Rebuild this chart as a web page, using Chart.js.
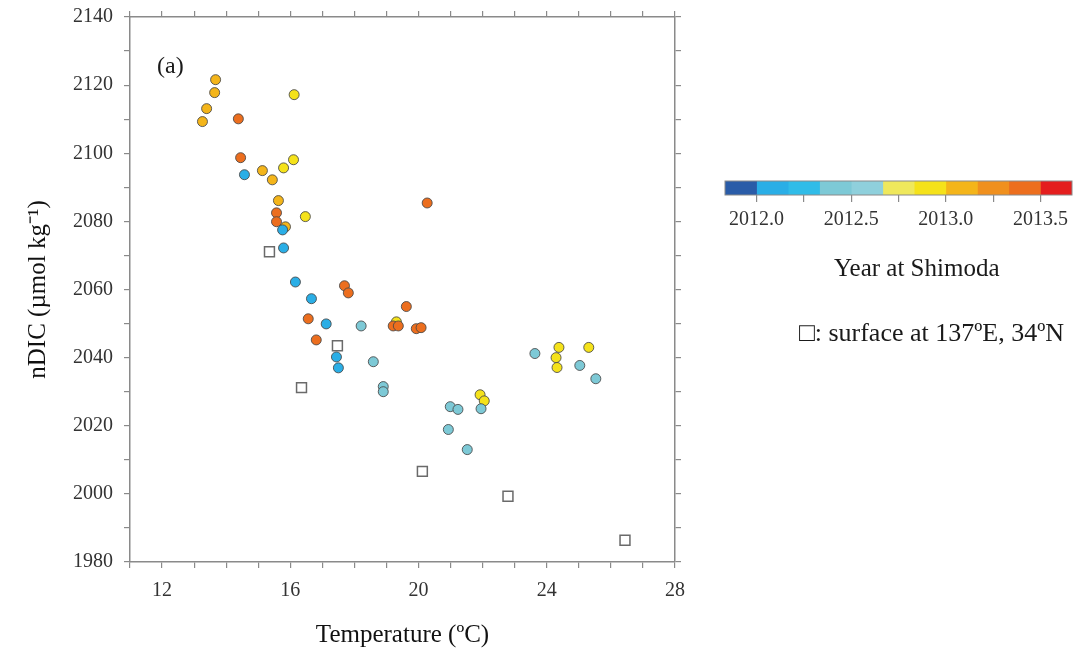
<!DOCTYPE html>
<html>
<head>
<meta charset="utf-8">
<script src="https://cdn.jsdelivr.net/npm/chart.js@4.4.0/dist/chart.umd.min.js"></script>
<style>
  body { margin: 0; background: #fff; }
  #wrap { position: relative; width: 1076px; height: 660px; font-family: "Liberation Serif", "Times New Roman", serif; }
  #main { position: absolute; left: 0; top: 0; }
  #bar { position: absolute; left: 700px; top: 165px; }
  .txt { position: absolute; color: #1a1a1a; white-space: nowrap; line-height: 1; }
</style>
</head>
<body>
<div id="wrap">
  <canvas id="main" width="1076" height="660"></canvas>
  <canvas id="bar" width="376" height="70"></canvas>
  <div class="txt" style="left:157px;top:53px;font-size:24px;">(a)</div>
  <div class="txt" style="left:834px;top:255px;font-size:25px;">Year at Shimoda</div>
  <div class="txt" style="left:799px;top:320px;font-size:26px;">□: surface at 137ºE, 34ºN</div>
</div>
<script>
// Shimoda samples: temperature, nDIC and sampling year (colour)
const temps = [13.67, 13.64, 13.39, 13.26, 16.12, 14.38, 14.45, 14.57, 15.13, 15.79,
               16.10, 15.44, 15.63, 15.57, 16.47, 15.57, 15.85, 15.76, 15.79, 16.16,
               16.66, 16.56, 17.12, 16.81, 17.44, 17.50, 17.69, 17.81, 18.21, 18.59,
               18.90, 18.90, 19.62, 19.31, 19.21, 19.37, 19.93, 20.08, 20.27, 20.99,
               21.23, 20.93, 21.52, 21.92, 22.05, 21.95, 23.63, 24.38, 24.29, 24.32,
               25.31, 25.03, 25.53];
const ndic = [2121.6, 2117.8, 2113.1, 2109.3, 2117.2, 2110.1, 2098.7, 2093.7, 2094.9, 2095.7,
              2098.1, 2092.2, 2086.1, 2082.5, 2081.4, 2079.9, 2078.4, 2077.5, 2072.2, 2062.2,
              2057.3, 2051.4, 2049.9, 2045.2, 2040.2, 2037.0, 2061.1, 2059.0, 2049.3, 2038.8,
              2031.5, 2030.0, 2055.0, 2050.5, 2049.3, 2049.3, 2048.5, 2048.8, 2085.4, 2025.6,
              2024.8, 2018.9, 2013.0, 2029.1, 2027.3, 2025.0, 2041.2, 2043.0, 2040.0, 2037.1,
              2043.0, 2037.7, 2033.8];
const years = [2013.08, 2013.08, 2013.08, 2013.08, 2012.92, 2013.4, 2013.4, 2012.1, 2013.08, 2012.92,
               2012.92, 2013.08, 2013.08, 2013.4, 2012.92, 2013.4, 2013.08, 2012.1, 2012.1, 2012.1,
               2012.1, 2013.4, 2012.1, 2013.4, 2012.1, 2012.1, 2013.4, 2013.4, 2012.42, 2012.42,
               2012.42, 2012.42, 2013.4, 2012.92, 2013.4, 2013.4, 2013.4, 2013.4, 2013.4, 2012.42,
               2012.42, 2012.42, 2012.42, 2012.92, 2012.92, 2012.42, 2012.42, 2012.92, 2012.92, 2012.92,
               2012.92, 2012.42, 2012.42];

// surface samples at 137E, 34N
const sqTemps = [15.35, 17.47, 16.35, 20.12, 22.79, 26.44];
const sqNdic = [2071.1, 2043.5, 2031.2, 2006.6, 1999.3, 1986.4];

// colour bar
const cbEdges = [2011.833, 2012.0, 2012.167, 2012.333, 2012.5, 2012.667, 2012.833,
                 2013.0, 2013.167, 2013.333, 2013.5, 2013.667];
const cbColors = ['#2a5ca8', '#2aaee6', '#30bce8', '#7dc9d6', '#8fd0dc', '#efe85c',
                  '#f5e21a', '#f4b51a', '#f0901e', '#ec6e1e', '#e41e1e'];
const cbTicks = [2012.0, 2012.5, 2013.0, 2013.5];

const serif = '"Liberation Serif", "Times New Roman", serif';

function yearColor(y) {
    for (let i = 0; i < cbColors.length; i++) {
        if (y >= cbEdges[i] && y < cbEdges[i + 1]) return cbColors[i];
    }
    return cbColors[cbColors.length - 1];
}

const axisGrid = { drawOnChartArea: false, drawTicks: true, tickLength: 6, color: '#8a8a8a', lineWidth: 1.2 };
const axisBorder = { color: '#8a8a8a', width: 1.5 };

new Chart(document.getElementById('main'), {
    type: 'scatter',
    data: {
        datasets: [
            {
                data: temps.map((t, i) => ({ x: t, y: ndic[i] })),
                pointRadius: 5,
                pointBackgroundColor: years.map(yearColor),
                pointBorderColor: 'rgba(70,70,70,0.85)',
                pointBorderWidth: 1
            },
            {
                data: sqTemps.map((t, i) => ({ x: t, y: sqNdic[i] })),
                pointStyle: 'rect',
                pointRadius: 7,
                pointBackgroundColor: '#fff',
                pointBorderColor: '#6a6a6a',
                pointBorderWidth: 1.5
            }
        ]
    },
    options: {
        responsive: false,
        animation: false,
        layout: { padding: { left: 0, right: 391, top: 7, bottom: 0 } },
        plugins: { legend: { display: false }, tooltip: { enabled: false } },
        scales: {
            x: {
                type: 'linear', position: 'bottom', min: 11, max: 28,
                ticks: {
                    stepSize: 1, autoSkip: false, maxRotation: 0, padding: 11,
                    color: '#333', font: { family: serif, size: 20 },
                    callback: v => (v % 4 === 0 ? v : '')
                },
                grid: axisGrid,
                border: axisBorder,
                title: {
                    display: true, text: 'Temperature (ºC)', color: '#111',
                    font: { family: serif, size: 25 }, padding: { top: 0, bottom: 10 }
                },
                afterFit: s => { s.height = 98; s.paddingLeft = 0; s.paddingRight = 0; }
            },
            x2: {
                type: 'linear', position: 'top', min: 11, max: 28,
                ticks: { stepSize: 1, display: false },
                grid: axisGrid,
                border: axisBorder,
                afterFit: s => { s.height = 10; }
            },
            y: {
                type: 'linear', position: 'left', min: 1980, max: 2140,
                ticks: {
                    stepSize: 10, autoSkip: false, padding: 11,
                    color: '#333', font: { family: serif, size: 20 },
                    callback: v => (v % 20 === 0 ? v : '')
                },
                grid: axisGrid,
                border: axisBorder,
                title: {
                    display: true, text: 'nDIC (µmol kg⁻¹)', color: '#111',
                    font: { family: serif, size: 25 }, padding: { top: 23, bottom: 0 }
                },
                afterFit: s => { s.width = 130; s.paddingTop = 0; s.paddingBottom = 0; }
            },
            y2: {
                type: 'linear', position: 'right', min: 1980, max: 2140,
                ticks: { stepSize: 10, display: false },
                grid: axisGrid,
                border: axisBorder,
                afterFit: s => { s.width = 10; s.paddingTop = 0; s.paddingBottom = 0; }
            }
        }
    }
});

// thin frame round the colour bar
const outline = {
    id: 'outline',
    afterDatasetsDraw(chart) {
        const { ctx, chartArea: a } = chart;
        ctx.save();
        ctx.strokeStyle = '#8a8a8a';
        ctx.lineWidth = 1;
        ctx.strokeRect(a.left, a.top, a.right - a.left, a.bottom - a.top);
        ctx.restore();
    }
};

new Chart(document.getElementById('bar'), {
    type: 'bar',
    data: {
        labels: [''],
        datasets: cbColors.map((c, i) => ({
            data: [[cbEdges[i], cbEdges[i + 1]]],
            backgroundColor: c,
            borderWidth: 0,
            barPercentage: 1,
            categoryPercentage: 1,
            grouped: false
        }))
    },
    options: {
        indexAxis: 'y',
        responsive: false,
        animation: false,
        layout: { padding: { left: 25, right: 4, top: 16, bottom: 0 } },
        plugins: { legend: { display: false }, tooltip: { enabled: false } },
        scales: {
            x: {
                type: 'linear', min: cbEdges[0], max: cbEdges[cbEdges.length - 1],
                ticks: {
                    stepSize: 0.25, includeBounds: false, autoSkip: false, maxRotation: 0, padding: 6,
                    color: '#333', font: { family: serif, size: 20 },
                    callback: v => {
                        const hit = cbTicks.find(t => Math.abs(t - v) < 1e-6);
                        return hit !== undefined ? hit.toFixed(1) : '';
                    }
                },
                grid: { drawOnChartArea: false, drawTicks: true, tickLength: 7, color: '#8a8a8a', lineWidth: 1.2 },
                border: { display: false },
                afterFit: s => { s.height = 40; }
            },
            y: { display: false }
        }
    },
    plugins: [outline]
});
</script>
</body>
</html>
